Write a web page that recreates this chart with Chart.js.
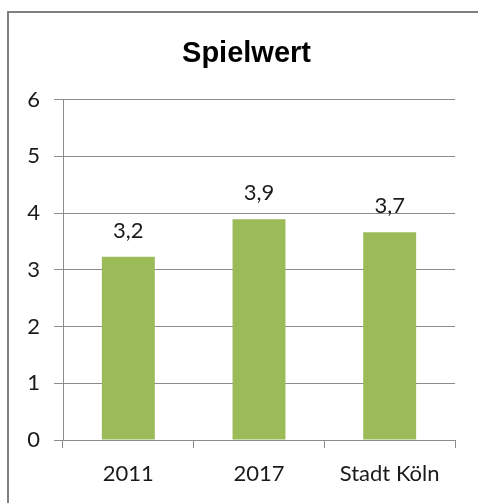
<!DOCTYPE html>
<html>
<head>
<meta charset="utf-8">
<script src="https://cdn.jsdelivr.net/npm/chart.js@4.4.0/dist/chart.umd.min.js"></script>
<style>
    html, body { margin: 0; padding: 0; background: #fff; overflow: hidden; width: 478px; height: 503px; }
    #frame {
        position: absolute; left: 7px; top: 11px;
        border: 2px solid #808080;
        width: 475px; height: 500px;
    }
    #box { position: relative; width: 475px; height: 500px; }
</style>
</head>
<body>
<div id="frame"><div id="box"><canvas id="mainChart"></canvas></div></div>
<script>
const TITLE = 'Spielwert';
const CATEGORIES = ['2011', '2017', 'Stadt Köln'];
const VALUES = [3.23, 3.89, 3.66];
const Y_TICKS = [0, 1, 2, 3, 4, 5, 6];

const BAR_COLOR = '#9bbb59';
const GRID_COLOR = '#8c8c8c';
const LABEL_FONT = { family: 'Lato', size: 22 };

// Titel über die ganze Diagrammbreite zentriert (nicht nur über die Zeichenfläche)
const chartTitle = {
    id: 'chartTitle',
    afterDraw(chart) {
        const ctx = chart.ctx;
        ctx.save();
        ctx.font = 'bold 29px "Liberation Sans"';
        ctx.fillStyle = '#000';
        ctx.textAlign = 'center';
        ctx.textBaseline = 'alphabetic';
        ctx.fillText(TITLE, chart.width / 2, 49);
        ctx.restore();
    }
};

// Wertbeschriftung über den Balken (3,2 usw.)
const valueLabels = {
    id: 'valueLabels',
    afterDatasetsDraw(chart) {
        const ctx = chart.ctx;
        const meta = chart.getDatasetMeta(0);
        ctx.save();
        ctx.font = `${LABEL_FONT.size}px ${LABEL_FONT.family}`;
        ctx.fillStyle = '#1a1a1a';
        ctx.textAlign = 'center';
        ctx.textBaseline = 'alphabetic';
        meta.data.forEach((bar, i) => {
            const txt = VALUES[i].toFixed(1).replace('.', ',');
            ctx.fillText(txt, bar.x, bar.y - 19);
        });
        ctx.restore();
    }
};

const ctx = document.getElementById('mainChart').getContext('2d');
new Chart(ctx, {
    type: 'bar',
    data: {
        labels: CATEGORIES,
        datasets: [{
            data: VALUES,
            backgroundColor: BAR_COLOR,
            borderWidth: 0,
            barPercentage: 0.405,
            categoryPercentage: 1
        }]
    },
    options: {
        responsive: true,
        maintainAspectRatio: false,
        animation: false,
        layout: { padding: { left: 0, right: 29, top: 86.5, bottom: 23 } },
        plugins: {
            legend: { display: false },
            tooltip: { enabled: false },
            title: { display: false }
        },
        scales: {
            y: {
                min: 0,
                max: 6,
                afterBuildTicks: (axis) => { axis.ticks = Y_TICKS.map(v => ({ value: v })); },
                afterFit: (axis) => { axis.width = 54; },
                ticks: { color: '#1a1a1a', font: LABEL_FONT, padding: 14 },
                grid: { color: GRID_COLOR, lineWidth: 1, tickLength: 9 },
                border: { color: GRID_COLOR, width: 1 }
            },
            x: {
                afterFit: (axis) => { axis.height = 50; },
                ticks: { color: '#1a1a1a', font: LABEL_FONT, padding: 13 },
                grid: { offset: true, drawOnChartArea: false, color: GRID_COLOR, tickLength: 8 },
                border: { color: GRID_COLOR, width: 1 }
            }
        }
    },
    plugins: [valueLabels, chartTitle]
});
</script>
</body>
</html>
